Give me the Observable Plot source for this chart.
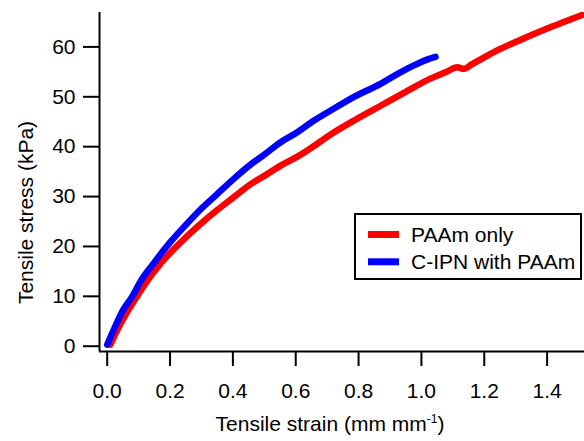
<!DOCTYPE html>
<html>
<head>
<meta charset="utf-8">
<script src="https://cdn.jsdelivr.net/npm/d3@7"></script>
<script src="https://cdn.jsdelivr.net/npm/@observablehq/plot@0.6"></script>
<style>
  html, body { margin: 0; padding: 0; background: #fff; }
  #chart { width: 584px; height: 441px; }
  svg { font-family: "Liberation Sans", Arial, Helvetica, sans-serif; }
</style>
</head>
<body>
<div id="chart"></div>
<script>
// PAAm only
const paamStrain = [0.01,0.03,0.06,0.10,0.15,0.19,0.25,0.297,0.35,0.403,0.45,0.509,0.552,0.605,0.65,0.71,0.79,0.87,0.95,1.03,1.08,1.114,1.135,1.16,1.20,1.241,1.30,1.347,1.40,1.453,1.52];
const paamStress = [0.3,3.0,6.5,10.5,15.0,18.0,21.8,24.5,27.3,29.9,32.2,34.5,36.2,38.0,39.8,42.4,45.4,48.2,51.0,53.7,55.0,55.9,55.6,56.5,57.9,59.3,61.0,62.3,63.7,65.0,66.6];
// C-IPN with PAAm
const cipnStrain = [0.0,0.02,0.05,0.08,0.106,0.15,0.20,0.25,0.30,0.35,0.40,0.456,0.50,0.552,0.605,0.65,0.71,0.78,0.87,0.93,0.976,1.02,1.045];
const cipnStress = [0.3,3.2,7.2,10.0,13.0,16.8,20.8,24.3,27.6,30.5,33.4,36.4,38.4,40.9,42.9,44.9,47.2,49.8,52.6,54.8,56.3,57.5,58.0];

const seriesNames = ["PAAm only", "C-IPN with PAAm"];
const seriesColors = ["#ff0000", "#0000ff"];
const xTicks = [0, 0.2, 0.4, 0.6, 0.8, 1.0, 1.2, 1.4];
const yTicks = [0, 10, 20, 30, 40, 50, 60];
const xDomain = [-0.0245, 1.519];
const yDomain = [-1.06, 66.9];

const paam = paamStrain.map((x, i) => ({x, y: paamStress[i]}));
const cipn = cipnStrain.map((x, i) => ({x, y: cipnStress[i]}));

const FONT = "Liberation Sans, Arial, Helvetica, sans-serif";

const plot = Plot.plot({
  width: 584,
  height: 441,
  marginLeft: 99,
  marginRight: 0,
  marginTop: 12,
  marginBottom: 90,
  style: {fontSize: "21px", fontFamily: FONT, color: "#000", background: "#fff"},
  x: {domain: xDomain},
  y: {domain: yDomain},
  marks: [
    Plot.line(paam, {x: "x", y: "y", stroke: seriesColors[0], strokeWidth: 6.5, curve: "monotone-x", clip: true, strokeLinecap: "round"}),
    Plot.line(cipn, {x: "x", y: "y", stroke: seriesColors[1], strokeWidth: 6.5, curve: "monotone-x", clip: true, strokeLinecap: "round"}),
    Plot.axisX({ticks: xTicks, tickFormat: d3.format(".1f"), tickSize: 15, tickPadding: 17, strokeWidth: 2, fontSize: 21, label: null}),
    Plot.axisY({ticks: yTicks, tickFormat: d3.format("d"), tickSize: 16, tickPadding: 8, strokeWidth: 2, fontSize: 21, label: null}),
    Plot.ruleX([xDomain[0]], {strokeWidth: 2}),
    Plot.ruleY([yDomain[0]], {strokeWidth: 2})
  ]
});
document.getElementById("chart").appendChild(plot);

const svg = d3.select(plot);
// axis titles
svg.append("text")
  .attr("transform", "translate(32.5,212.5) rotate(-90)")
  .attr("text-anchor", "middle")
  .attr("font-size", 21)
  .attr("fill", "#000")
  .text("Tensile stress (kPa)");

const xl = svg.append("text")
  .attr("x", 330).attr("y", 431)
  .attr("text-anchor", "middle")
  .attr("font-size", 21)
  .attr("fill", "#000");
xl.append("tspan").text("Tensile strain (mm mm");
xl.append("tspan").attr("font-size", 12).attr("dy", -8).text("-1");
xl.append("tspan").attr("dy", 8).text(")");

// legend
const lg = svg.append("g");
lg.append("rect").attr("x", 355).attr("y", 214).attr("width", 226).attr("height", 65)
  .attr("fill", "#fff").attr("stroke", "#000").attr("stroke-width", 2);
seriesNames.forEach((name, i) => {
  const cy = 234.5 + i * 27.3;
  lg.append("line").attr("x1", 368).attr("x2", 399).attr("y1", cy).attr("y2", cy)
    .attr("stroke", seriesColors[i]).attr("stroke-width", 7);
  lg.append("text").attr("x", 411).attr("y", cy + 7.5)
    .attr("text-anchor", "start")
    .attr("font-size", 21).attr("fill", "#000").text(name);
});
</script>
</body>
</html>
